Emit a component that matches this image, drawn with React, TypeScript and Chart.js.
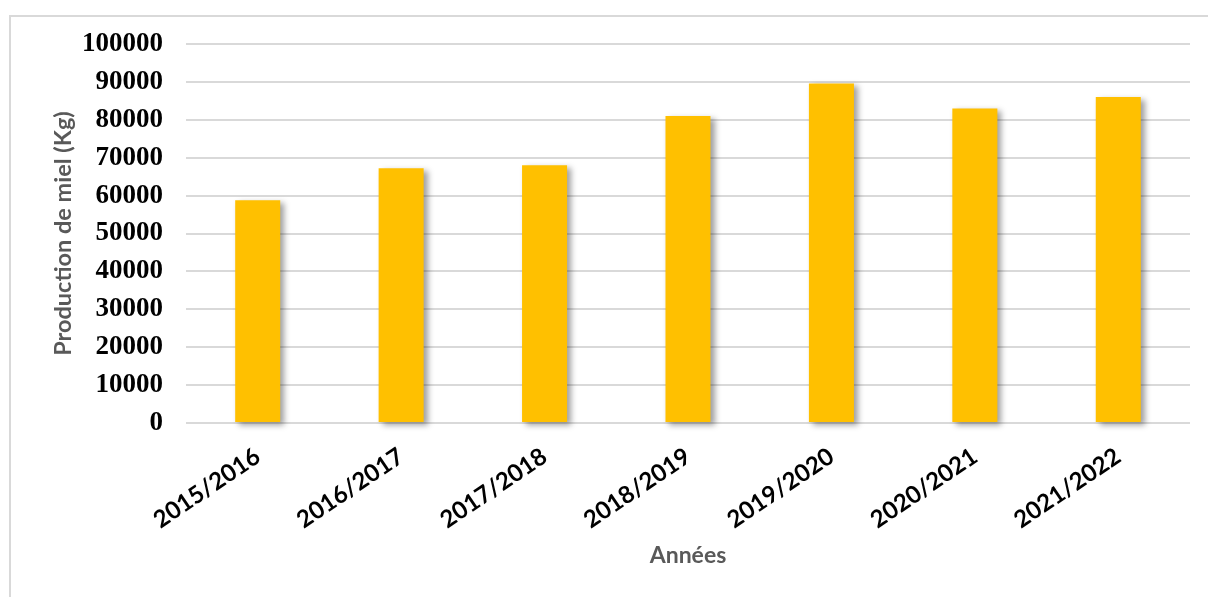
import React, { useEffect, useRef } from "react";
import { Chart, registerables } from "chart.js";

Chart.register(...registerables);

const categories = ["2015/2016", "2016/2017", "2017/2018", "2018/2019", "2019/2020", "2020/2021", "2021/2022"];
const production = [58800, 67200, 68000, 81000, 89600, 83000, 86000];
const yMin = 0;
const yMax = 100000;
const yStep = 10000;
const xTitle = "Années";
const yTitle = "Production de miel (Kg)";

const W = 1208;
const H = 597;

const shadowPlugin = {
  id: "barShadow",
  beforeDatasetsDraw(chart: any) {
    const c = chart.ctx;
    c.save();
    c.shadowColor = "rgba(0,0,0,0.38)";
    c.shadowBlur = 6;
    c.shadowOffsetX = 4;
    c.shadowOffsetY = 3;
  },
  afterDatasetsDraw(chart: any) {
    chart.ctx.restore();
  },
};

export default function App() {
  const ref = useRef<HTMLCanvasElement | null>(null);

  useEffect(() => {
    if (!ref.current) return;
    const chart = new Chart(ref.current, {
      type: "bar",
      data: {
        labels: categories,
        datasets: [
          {
            data: production,
            backgroundColor: "#FFC000",
            borderWidth: 0,
            categoryPercentage: 1,
            barPercentage: 0.314,
            clip: false as any,
          },
        ],
      },
      plugins: [shadowPlugin],
      options: {
        responsive: false,
        animation: false,
        layout: { padding: { left: 49, right: 18, top: 44, bottom: 28 } },
        plugins: {
          legend: { display: false },
          tooltip: { enabled: false },
          title: { display: false },
        },
        scales: {
          x: {
            grid: { display: false, drawTicks: false },
            border: { display: false },
            ticks: {
              color: "#000000",
              font: { family: "Lato", weight: "bold", size: 24 },
              minRotation: 34,
              maxRotation: 34,
              padding: 19,
              autoSkip: false,
            },
            title: {
              display: true,
              text: xTitle,
              color: "#595959",
              font: { family: "Lato", weight: "bold", size: 23 },
              padding: 0,
            },
            afterFit(scale: any) {
              scale.height = H - 28 - 423;
            },
          },
          y: {
            min: yMin,
            max: yMax,
            grid: { color: "#d9d9d9", lineWidth: 2, drawTicks: false },
            border: { display: false },
            ticks: {
              stepSize: yStep,
              color: "#000000",
              font: { family: "Liberation Serif", weight: "bold", size: 27 },
              padding: 23,
              callback: (v: any) => String(v),
            },
            title: {
              display: true,
              text: yTitle,
              color: "#595959",
              font: { family: "Lato", weight: "bold", size: 23.5 },
              padding: 0,
            },
            afterFit(scale: any) {
              scale.width = 186 - 49;
            },
          },
        },
      },
    });
    return () => chart.destroy();
  }, []);

  return (
    <div
      style={{
        position: "fixed",
        left: 0,
        top: 0,
        width: W,
        height: H,
        background: "#ffffff",
        overflow: "hidden",
      }}
    >
      <canvas ref={ref} width={W} height={H} style={{ display: "block", width: W, height: H }} />
      <div
        style={{
          position: "absolute",
          left: 9,
          top: 15,
          right: -10,
          bottom: -10,
          border: "2px solid #d9d9d9",
          pointerEvents: "none",
        }}
      />
    </div>
  );
}
